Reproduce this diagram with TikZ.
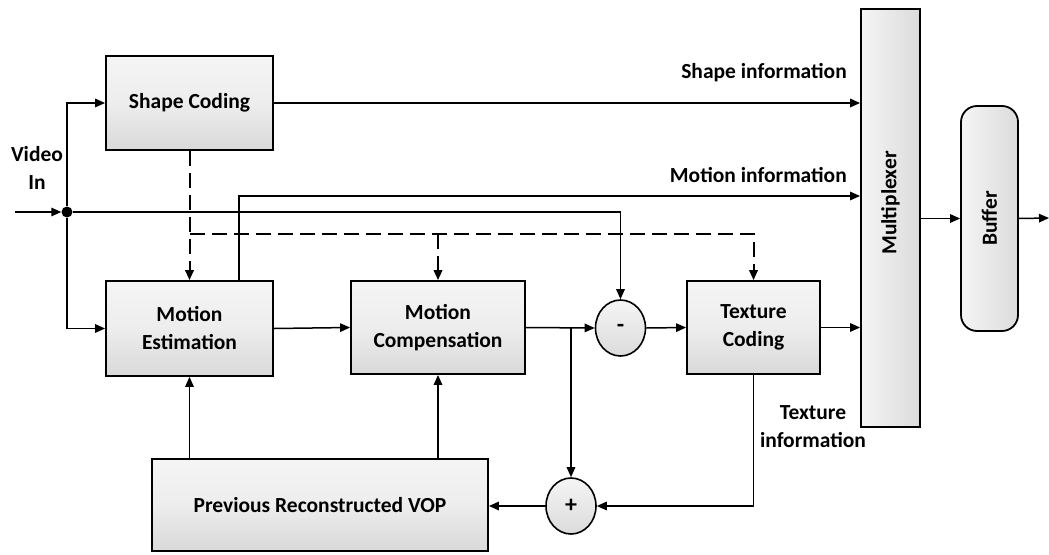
\documentclass[tikz,border=0pt]{standalone}
\usepackage{fontspec}
\setmainfont{Carlito}
\usetikzlibrary{arrows.meta,shapes.geometric,calc}
\tikzset{
  blk/.style={draw=black, line width=1.8pt, top color=gray!8, bottom color=gray!30, middle color=gray!14, inner sep=2pt, align=center, font=\fontsize{21.5}{28}\selectfont\bfseries},
  vblk/.style={draw=black, line width=1.8pt, left color=gray!8, right color=gray!28, inner sep=0pt},
  sumnode/.style={ellipse, draw=black, line width=1.6pt, top color=gray!8, bottom color=gray!28, minimum width=50pt, minimum height=56pt, inner sep=0pt, font=\fontsize{24}{26}\selectfont\bfseries},
  conn/.style={line width=1.5pt, -{Triangle[length=10pt,width=8.5pt]}},
  dsh/.style={line width=2pt, dash pattern=on 15pt off 7pt, -{Triangle[length=10pt,width=8.5pt]}},
  lbl/.style={font=\fontsize{21.5}{28}\selectfont\bfseries, inner sep=0pt, align=center}
}
\begin{document}
\begin{tikzpicture}[x=1pt,y=-1pt]
\useasboundingbox (0,0) rectangle (1049,554);
% blocks
\node[blk, minimum width=167pt, minimum height=94pt] (SC) at (189.5,103) {Shape Coding};
\node[blk, minimum width=167pt, minimum height=95pt] (ME) at (189.5,328.5) {Motion\\Estimation};
\node[blk, minimum width=174pt, minimum height=93pt] (MC) at (438,327.5) {Motion\\Compensation};
\node[blk, minimum width=133pt, minimum height=93pt] (TC) at (753.5,327.5) {Texture\\Coding};
\node[blk, minimum width=336pt, minimum height=92pt] (PRV) at (320,505) {Previous Reconstructed VOP};
\node[vblk, minimum width=59pt, minimum height=418pt] (mux) at (890.5,218) {};
\node[font=\fontsize{21.5}{24}\selectfont\bfseries, rotate=90] (muxt) at (890.5,203) {Multiplexer};
\node[vblk, rounded corners=16pt, minimum width=57pt, minimum height=225pt] (buf) at (989.5,218.5) {};
\node[font=\fontsize{21.5}{24}\selectfont\bfseries, rotate=90] (buft) at (989.5,218.5) {Buffer};
\node[sumnode] (minus) at (620.5,328) {-};
\node[sumnode] (plus) at (571,506) {+};
% input
\node[circle, fill=black, minimum size=11pt, inner sep=0pt] (dot) at (67,212) {};
\coordinate (vin) at (15,212);
\coordinate (out) at (1049,218);
\coordinate (mirow) at (0,196);
\coordinate (drow) at (0,234);
\coordinate (mitap) at (239,281);
\node[lbl] (video) at (37,168) {Video\\In};
\node[lbl, anchor=east] (shinf) at (847,73) {Shape information};
\node[lbl, anchor=east] (moinf) at (847,175) {Motion information};
\node[lbl] (txinf) at (813,427) {Texture\\information};
% connectors
\draw[conn] (vin) -- (dot);
\draw[conn] (dot) |- (SC.west);
\draw[conn] (dot) |- (ME.west);
\draw[conn] (dot) -| (minus.north);
\draw[conn] (SC.east) -- (SC.east -| mux.west);
\draw[conn] (mitap) |- (mirow -| mux.west);
\draw[dsh] (SC.south) -- (ME.north);
\draw[dsh] (SC.south |- drow) -| (TC.north);
\draw[dsh] (MC.north |- drow) -- (MC.north);
\draw[conn] (ME.east) -- (MC.west);
\draw[conn] (MC.east) -- (minus.west);
\draw[conn] (minus.east) -- (TC.west);
\draw[conn] (TC.east) -- (TC.east -| mux.west);
\draw[conn] (MC.east -| plus.north) -- (plus.north);
\draw[conn] (TC.south) |- (plus.east);
\draw[conn] (plus.west) -- (plus.west -| PRV.east);
\draw[conn] (PRV.north -| ME.south) -- (ME.south);
\draw[conn] (PRV.north -| MC.south) -- (MC.south);
\draw[conn] (mux.east |- buf.west) -- (buf.west);
\draw[conn] (buf.east) -- (out);
\end{tikzpicture}
\end{document}
